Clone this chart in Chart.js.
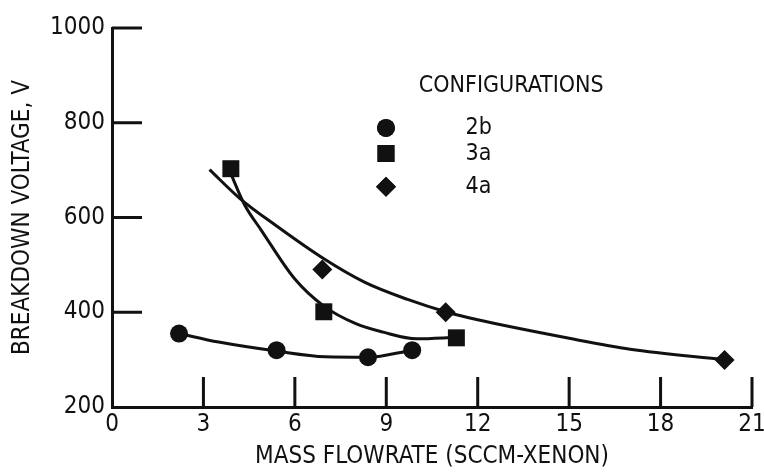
<!DOCTYPE html>
<html>
<head>
<meta charset="utf-8">
<script src="https://cdn.jsdelivr.net/npm/chart.js@4"></script>
<style>
  html, body { margin: 0; padding: 0; background: #fff; }
  #wrap { width: 764px; height: 474px; }
</style>
</head>
<body>
<div id="wrap"><canvas id="myChart"></canvas></div>
<script>
// measured points
var cfg2b = [[2.2, 355], [5.4, 320], [8.4, 305], [9.85, 320]];
var cfg3a = [[3.9, 703], [6.95, 401], [11.3, 346]];
var cfg4a = [[6.9, 490], [10.95, 400], [20.1, 299]];

// faired curves
var fit2b = [[2.2, 355], [3.5, 337], [5.4, 318], [7.0, 306], [8.4, 305], [9.85, 320]];
var fit3a = [[3.85, 700], [4.34, 628], [4.9, 573], [6.0, 470], [6.95, 413], [8.0, 376], [8.9, 358], [10.0, 344], [11.3, 347]];
var fit4a = [[3.2, 701], [4.2, 640], [5.4, 582], [6.9, 515], [8.3, 463], [9.7, 427], [11.0, 400], [12.0, 384], [15.0, 345], [17.0, 322], [20.1, 300]];

var xTicks = [0, 3, 6, 9, 12, 15, 18, 21];
var yTicks = [200, 400, 600, 800, 1000];

var legendItems = [["2b", "circle"], ["3a", "rect"], ["4a", "rectRot"]];

var NARROW = "'Liberation Sans Narrow', 'DejaVu Sans', sans-serif";
var FONT = "'DejaVu Sans', sans-serif";
var INK = "#111";

function pts(a) { return a.map(function (p) { return { x: p[0], y: p[1] }; }); }

function curve(a) {
  return {
    type: "line", data: pts(a), showLine: true, borderColor: INK, borderWidth: 3,
    pointRadius: 0, fill: false, cubicInterpolationMode: "monotone"
  };
}
function marks(a, style, r, label) {
  return {
    label: label, data: pts(a), showLine: false, pointStyle: style, pointRadius: r,
    pointHoverRadius: r, backgroundColor: INK, borderColor: INK, borderWidth: 0
  };
}

// inward ticks + legend block
var extras = {
  id: "extras",
  afterDraw: function (chart) {
    var ctx = chart.ctx, xs = chart.scales.x, ys = chart.scales.y, a = chart.chartArea;
    ctx.save();
    ctx.strokeStyle = INK;
    ctx.lineWidth = 3;
    ctx.beginPath();
    xTicks.forEach(function (v) {
      if (v === 0) return;
      var px = xs.getPixelForValue(v);
      ctx.moveTo(px, a.bottom);
      ctx.lineTo(px, a.bottom - 30);
    });
    yTicks.forEach(function (v) {
      if (v === 200) return;
      var py = ys.getPixelForValue(v);
      ctx.moveTo(a.left, py);
      ctx.lineTo(a.left + 30, py);
    });
    ctx.stroke();

    ctx.fillStyle = INK;
    ctx.font = "condensed 23px " + FONT;
    ctx.textAlign = "center";
    ctx.textBaseline = "middle";
    ctx.fillText("CONFIGURATIONS", xs.getPixelForValue(13.1), ys.getPixelForValue(878));
    var rows = [789, 735, 665], radii = [9, 12, 10];
    legendItems.forEach(function (it, i) {
      var py = ys.getPixelForValue(rows[i]);
      Chart.helpers.drawPoint(ctx, { pointStyle: it[1], radius: radii[i], rotation: 0, borderWidth: 0 },
        xs.getPixelForValue(8.99), py);
      ctx.fill();
      ctx.textAlign = "left";
      ctx.fillText(it[0], xs.getPixelForValue(11.6), py);
    });
    ctx.restore();
  }
};

var tickFont = { family: NARROW, size: 24, weight: "condensed" };
var titleFont = { family: FONT, size: 24, weight: "condensed" };

new Chart("myChart", {
  type: "scatter",
  data: {
    datasets: [
      curve(fit2b), curve(fit3a), curve(fit4a),
      marks(cfg2b, "circle", 9, "2b"),
      marks(cfg3a, "rect", 12, "3a"),
      marks(cfg4a, "rectRot", 10, "4a")
    ]
  },
  options: {
    responsive: true,
    maintainAspectRatio: false,
    animation: false,
    events: [],
    layout: { padding: { top: 28, right: 9, left: 0, bottom: 0 } },
    plugins: { legend: { display: false }, tooltip: { enabled: false } },
    scales: {
      x: {
        type: "linear", min: 0, max: 21,
        afterBuildTicks: function (s) { s.ticks = xTicks.map(function (v) { return { value: v }; }); },
        afterFit: function (s) { s.height = 67; s.paddingRight = 0; s.paddingLeft = 0; },
        grid: { display: true, drawOnChartArea: false, drawTicks: false, color: "transparent" },
        border: { display: true, color: INK, width: 3 },
        ticks: { color: INK, font: tickFont, padding: 3, maxRotation: 0, callback: function (v) { return String(v); } },
        title: { display: true, text: "MASS FLOWRATE (SCCM-XENON)", color: INK, font: titleFont, padding: { top: 0, bottom: 3 } }
      },
      y: {
        type: "linear", min: 200, max: 1000,
        afterBuildTicks: function (s) { s.ticks = yTicks.map(function (v) { return { value: v }; }); },
        afterFit: function (s) { s.width = 112; s.paddingTop = 0; s.paddingBottom = 0; },
        grid: { display: true, drawOnChartArea: false, drawTicks: false, color: "transparent" },
        border: { display: true, color: INK, width: 3 },
        ticks: { color: INK, font: tickFont, padding: 7, callback: function (v) { return String(v); } },
        title: { display: true, text: "BREAKDOWN VOLTAGE, V", color: INK, font: titleFont, padding: { top: 8, bottom: 0 } }
      }
    }
  },
  plugins: [extras]
});
</script>
</body>
</html>
